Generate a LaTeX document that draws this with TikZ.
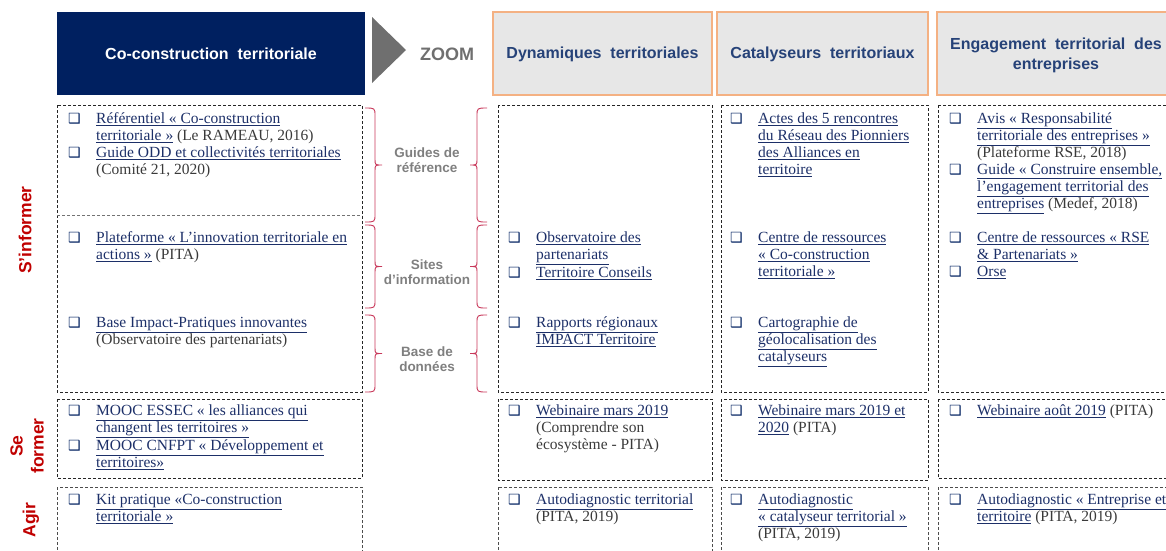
\documentclass[tikz,border=0pt]{standalone}
\usepackage{fontspec}
\setmainfont{Liberation Serif}
\setsansfont{Liberation Sans}
\newfontfamily\symfont{DejaVu Sans}
\definecolor{navy}{HTML}{002060}
\definecolor{linkblue}{HTML}{1C2F68}
\definecolor{srcgray}{HTML}{3A3A3A}
\definecolor{bracered}{HTML}{C8385A}
\definecolor{labgray}{HTML}{7F7F7F}
\definecolor{hdrfill}{HTML}{E7E7E7}
\definecolor{hdrline}{HTML}{F4B183}
\definecolor{zoomgray}{HTML}{6F6F6F}
\definecolor{actred}{HTML}{C00000}
\def\bx{{\symfont\fontsize{14}{14}\selectfont\color{navy}\char"2751}}
\def\itm{\rule{0pt}{12pt}\makebox[28pt][l]{\bx}}
\def\ind{\hspace*{28pt}}
\def\lk#1{{\color{linkblue}\underline{#1}}}
\def\src#1{{\color{srcgray}#1}}
% side brace: x, top, bottom, direction (1 = tip right, -1 = tip left)
\def\sidebrace(#1,#2,#3,#4){\draw[curly] (#1,#2) .. controls ({#1+#4*10},#2) .. ({#1+#4*10},{#2+8})
  -- ({#1+#4*10},{(#2+#3)/2-6}) .. controls ({#1+#4*10},{(#2+#3)/2}) .. ({#1+#4*17},{(#2+#3)/2})
  .. controls ({#1+#4*10},{(#2+#3)/2}) .. ({#1+#4*10},{(#2+#3)/2+6})
  -- ({#1+#4*10},{#3-8}) .. controls ({#1+#4*10},#3) .. (#1,#3);}
\tikzset{
  cellbox/.style={draw=black!85, dash pattern=on 3pt off 2pt, line width=0.7pt},
  hdrbox/.style={draw=hdrline, fill=hdrfill, line width=1.2pt},
  hdrtext/.style={font=\sffamily\bfseries\fontsize{16}{20}\selectfont, text=navy!85, align=center},
  entry/.style={anchor=north west, inner sep=0pt, align=left, font=\fontsize{15.5}{17}\selectfont},
  brlab/.style={font=\sffamily\bfseries\fontsize{13.5}{15}\selectfont, text=labgray, align=center},
  actlab/.style={font=\sffamily\bfseries\fontsize{17.5}{21}\selectfont, text=actred, rotate=90, align=center},
  curly/.style={draw=bracered, line width=0.9pt}
}

\begin{document}
\begin{tikzpicture}[x=1pt, y=-1pt]
  %%%%% START %%%%%
  \useasboundingbox (0,0) rectangle (1166,550);
  \clip (0,0) rectangle (1166,550);

  % headers
  \fill[navy] (57,12) rectangle (365,95);
  \node[hdrtext, text=white] (hcoc) at (211,54) {Co-construction\ \ territoriale};
  \fill[zoomgray] (372,17) -- (406,50) -- (372,83) -- cycle;
  \node[font=\sffamily\bfseries\fontsize{18}{20}\selectfont, text=zoomgray] (zoom) at (447,54) {ZOOM};

  \draw[hdrbox] (493,12) rectangle (712,95);
  \node[hdrtext] (hdyn) at (602.5,54) {Dynamiques\ \ territoriales};
  \draw[hdrbox] (717,12) rectangle (928,95);
  \node[hdrtext] (hcat) at (822.5,54) {Catalyseurs\ \ territoriaux};
  \draw[hdrbox] (937,12) rectangle (1180,95);
  \node[hdrtext] (heng) at (1056,55) {Engagement\ \ territorial\ \ des\\entreprises};

  % side labels
  \node[actlab] (sinf) at (25,230) {S’informer};
  \node[actlab] (sfor) at (27,446) {Se\\former};
  \node[actlab] (agir) at (31,520) {Agir};

  % dashed cells
  \draw[cellbox] (57,105) rectangle (362,392);
  \draw[cellbox, draw=black!55] (57,215) -- (362,215);
  \draw[cellbox] (57,399) rectangle (362,478);
  \draw[cellbox, draw=black!70] (57,487) rectangle (362,560);
  \draw[cellbox] (498,105) rectangle (712,392);
  \draw[cellbox] (498,399) rectangle (712,480);
  \draw[cellbox, draw=black!70] (498,487) rectangle (712,560);
  \draw[cellbox] (721,105) rectangle (928,392);
  \draw[cellbox] (721,399) rectangle (928,480);
  \draw[cellbox, draw=black!70] (721,487) rectangle (928,560);
  \draw[cellbox] (938,105) rectangle (1180,392);
  \draw[cellbox] (938,399) rectangle (1180,478);
  \draw[cellbox, draw=black!70] (938,487) rectangle (1180,560);

  % braces
  \sidebrace(365,108,222,1)
  \sidebrace(365,225,308,1)
  \sidebrace(365,315,392,1)
  \sidebrace(487,108,222,-1)
  \sidebrace(487,225,308,-1)
  \sidebrace(487,315,392,-1)
  \node[brlab] (lguid) at (427,160) {Guides de\\référence};
  \node[brlab] (lsite) at (427,272) {Sites\\d’information};
  \node[brlab] (lbase) at (427,359) {Base de\\données};

  % co-construction territoriale
  \node[entry] (cguid) at (68,111) {\itm\lk{Référentiel « Co-construction}\\
    \ind\lk{territoriale »} \src{(Le RAMEAU, 2016)}\\
    \itm\lk{Guide ODD et collectivités territoriales}\\
    \ind\src{(Comité 21, 2020)}};
  \node[entry] (csite) at (68,230) {\itm\lk{Plateforme « L’innovation territoriale en}\\
    \ind\lk{actions »} \src{(PITA)}};
  \node[entry] (cbase) at (68,315) {\itm\lk{Base Impact-Pratiques innovantes}\\
    \ind\src{(Observatoire des partenariats)}};
  \node[entry] (cfor) at (68,403) {\itm\lk{MOOC ESSEC « les alliances qui}\\
    \ind\lk{changent les territoires »}\\
    \itm\lk{MOOC CNFPT « Développement et}\\
    \ind\lk{territoires»}};
  \node[entry] (cagi) at (68,492) {\itm\lk{Kit pratique «Co-construction}\\
    \ind\lk{territoriale »}};

  % dynamiques territoriales
  \node[entry] (dsite) at (508,230) {\itm\lk{Observatoire des}\\
    \ind\lk{partenariats}\\
    \itm\lk{Territoire Conseils}};
  \node[entry] (dbase) at (508,315) {\itm\lk{Rapports régionaux}\\
    \ind\lk{IMPACT Territoire}};
  \node[entry] (dfor) at (508,403) {\itm\lk{Webinaire mars 2019}\\
    \ind\src{(Comprendre son}\\
    \ind\src{écosystème - PITA)}};
  \node[entry] (dagi) at (508,492) {\itm\lk{Autodiagnostic territorial}\\
    \ind\src{(PITA, 2019)}};

  % catalyseurs territoriaux
  \node[entry] (kguid) at (730,111) {\itm\lk{Actes des 5 rencontres}\\
    \ind\lk{du Réseau des Pionniers}\\
    \ind\lk{des Alliances en}\\
    \ind\lk{territoire}};
  \node[entry] (ksite) at (730,230) {\itm\lk{Centre de ressources}\\
    \ind\lk{« Co-construction}\\
    \ind\lk{territoriale »}};
  \node[entry] (kbase) at (730,315) {\itm\lk{Cartographie de}\\
    \ind\lk{géolocalisation des}\\
    \ind\lk{catalyseurs}};
  \node[entry] (kfor) at (730,403) {\itm\lk{Webinaire mars 2019 et}\\
    \ind\lk{2020} \src{(PITA)}};
  \node[entry] (kagi) at (730,492) {\itm\lk{Autodiagnostic}\\
    \ind\lk{« catalyseur territorial »}\\
    \ind\src{(PITA, 2019)}};

  % engagement territorial des entreprises
  \node[entry] (eguid) at (949,111) {\itm\lk{Avis « Responsabilité}\\
    \ind\lk{territoriale des entreprises »}\\
    \ind\src{(Plateforme RSE, 2018)}\\
    \itm\lk{Guide « Construire ensemble,}\\
    \ind\lk{l’engagement territorial des}\\
    \ind\lk{entreprises} \src{(Medef, 2018)}};
  \node[entry] (esite) at (949,230) {\itm\lk{Centre de ressources « RSE}\\
    \ind\lk{\& Partenariats »}\\
    \itm\lk{Orse}};
  \node[entry] (efor) at (949,403) {\itm\lk{Webinaire août 2019} \src{(PITA)}};
  \node[entry] (eagi) at (949,492) {\itm\lk{Autodiagnostic « Entreprise et}\\
    \ind\lk{territoire} \src{(PITA, 2019)}};
  %%%%% END %%%%%
\end{tikzpicture}
\end{document}
